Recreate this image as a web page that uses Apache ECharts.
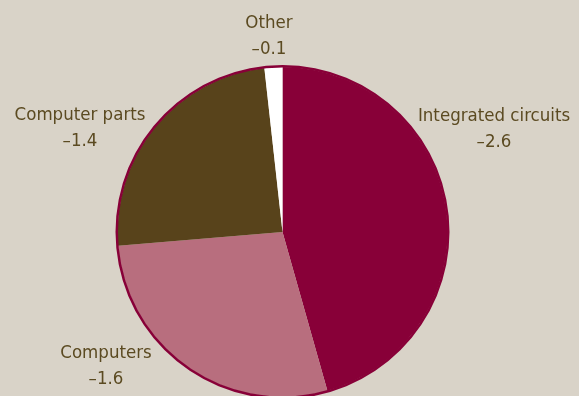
<!DOCTYPE html>
<html>
<head>
<meta charset="utf-8">
<style>
  html, body { margin: 0; padding: 0; background: #D9D3C8; }
  #chart { width: 579px; height: 396px; }
</style>
<script src="https://cdn.jsdelivr.net/npm/echarts@6/dist/echarts.min.js"></script>
</head>
<body>
<div id="chart"></div>
<script>
// Contributions to the decline, percentage points
const categories = ['Integrated circuits', 'Computers', 'Computer parts', 'Other'];
const changes = [-2.6, -1.6, -1.4, -0.1];
const sliceColors = ['#880038', '#B86E7E', '#58431B', '#FFFFFF'];

// Label anchor points (centre of each two-line label)
const labelAnchors = [[494, 129], [106, 366], [80, 128], [269, 36]];

const chart = echarts.init(document.getElementById('chart'));
const fmt = v => '\u2013' + Math.abs(v).toFixed(1);

chart.setOption({
  backgroundColor: '#D9D3C8',
  animation: false,
  series: [
    {
      type: 'pie',
      center: [282.5, 232],
      radius: [0, 165],
      startAngle: 90,
      clockwise: true,
      silent: true,
      data: categories.map((name, i) => ({
        name: name,
        value: Math.abs(changes[i]),
        change: changes[i],
        itemStyle: { color: sliceColors[i] }
      })),
      itemStyle: { borderWidth: 0 },
      label: {
        show: true,
        position: 'outside',
        alignTo: 'none',
        overflow: 'none',
        formatter: p => p.name + '\n' + fmt(p.data.change),
        fontFamily: '"Liberation Sans Narrow", "DejaVu Sans Condensed", sans-serif',
        fontSize: 18.5,
        fontWeight: 500,
        lineHeight: 26,
        color: '#5B4A21',
        align: 'center'
      },
      labelLine: { show: false },
      labelLayout: p => ({
        x: labelAnchors[p.dataIndex][0],
        y: labelAnchors[p.dataIndex][1],
        align: 'center',
        verticalAlign: 'middle'
      })
    },
    {
      // thin crimson rim round the whole pie
      type: 'pie',
      center: [282.5, 232],
      radius: [164.5, 167],
      silent: true,
      label: { show: false },
      labelLine: { show: false },
      itemStyle: { color: '#880038' },
      data: [{ value: 1 }]
    }
  ]
});
</script>
</body>
</html>
